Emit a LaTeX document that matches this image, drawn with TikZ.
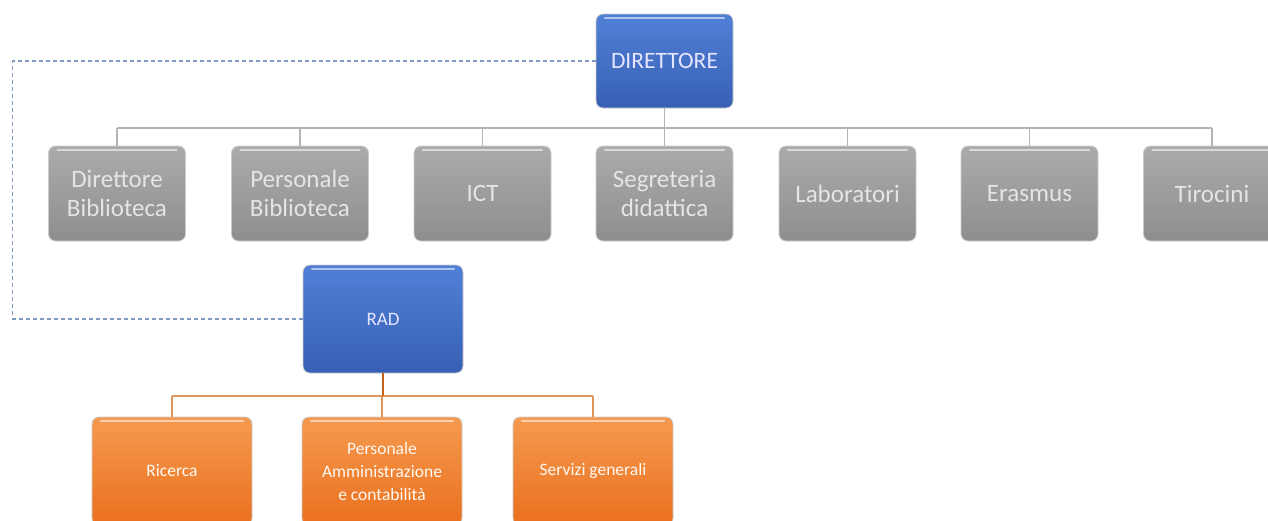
\documentclass[tikz,border=0pt]{standalone}
\usepackage{fontspec}
\setmainfont{Carlito}
\definecolor{blueTop}{HTML}{5080D6}
\definecolor{blueBot}{HTML}{3760B4}
\definecolor{grayTop}{HTML}{ABABAB}
\definecolor{grayBot}{HTML}{8E8E8E}
\definecolor{orTop}{HTML}{F59A50}
\definecolor{orBot}{HTML}{EA701E}
\definecolor{busGray}{HTML}{B4B4B4}
\definecolor{busOr}{HTML}{E0955A}
\definecolor{stemOr}{HTML}{C8601A}
\definecolor{dashBlue}{HTML}{7F9CC0}
\tikzset{
  box/.style={rounded corners=7pt, draw=white!80!black, line width=0.8pt,
    align=center, inner sep=2pt,
    path picture={\draw[white, line width=2.5pt, opacity=0.55, line cap=round]
      ([xshift=9pt,yshift=-4pt]path picture bounding box.north west) --
      ([xshift=-9pt,yshift=-4pt]path picture bounding box.north east);}},
  dirbox/.style={box, top color=blueTop, bottom color=blueBot, text=white!90!blue,
    minimum width=137pt, minimum height=94pt, font=\fontsize{23.5}{28}\selectfont},
  unitbox/.style={box, top color=grayTop, bottom color=grayBot, text=white!90!black,
    minimum width=137pt, minimum height=95pt, font=\fontsize{25}{29}\selectfont},
  radbox/.style={dirbox, minimum width=160pt, minimum height=108pt,
    font=\fontsize{19}{23}\selectfont},
  areabox/.style={box, top color=orTop, bottom color=orBot, text=white!95!orange,
    minimum width=160pt, minimum height=108pt, font=\fontsize{17.5}{23}\selectfont},
}
\begin{document}
\begin{tikzpicture}[x=1pt,y=-1pt]
  \useasboundingbox (0,0) rectangle (1268,520);

  % vertice
  \node[dirbox] (dir) at (664.5,61) {DIRETTORE};

  % uffici del direttore
  \foreach \i/\x/\t in {1/117/{Direttore\\Biblioteca}, 2/300/{Personale\\Biblioteca},
      3/482.5/{ICT}, 4/664.5/{Segreteria\\didattica}, 5/847.5/{Laboratori},
      6/1029.5/{Erasmus}, 7/1212/{Tirocini}} {
    \node[unitbox] (u\i) at (\x,193.5) {\t};
  }
  \coordinate (ubus) at (664.5,128);
  \draw[busGray, line width=1.5pt] (dir.south) -- (ubus);
  \draw[busGray, line width=1.5pt] (ubus -| u1.north) -- (ubus -| u7.north);
  \foreach \i in {1,...,7} {
    \draw[busGray, line width=1.5pt] (ubus -| u\i.north) -- (u\i.north);
  }

  % RAD
  \node[radbox] (rad) at (383,319) {RAD};
  \draw[dashBlue, line width=1.2pt, dash pattern=on 4pt off 3pt]
    (dir.west) -- ++(-583,0) coordinate (dcorner) |- (rad.west);

  % aree del RAD
  \foreach \i/\x/\t in {1/172/{Ricerca}, 2/382/{Personale\\Amministrazione\\e contabilità},
      3/593/{Servizi generali}} {
    \node[areabox] (a\i) at (\x,471) {\t};
  }
  \coordinate (abus) at (383,396);
  \draw[busOr, line width=1.8pt] (abus -| a1.north) -- (abus -| a3.north);
  \foreach \i in {1,...,3} {
    \draw[busOr, line width=1.8pt] (abus -| a\i.north) -- (a\i.north);
  }
  \draw[stemOr, line width=2.2pt] (rad.south) -- (abus);
\end{tikzpicture}
\end{document}
